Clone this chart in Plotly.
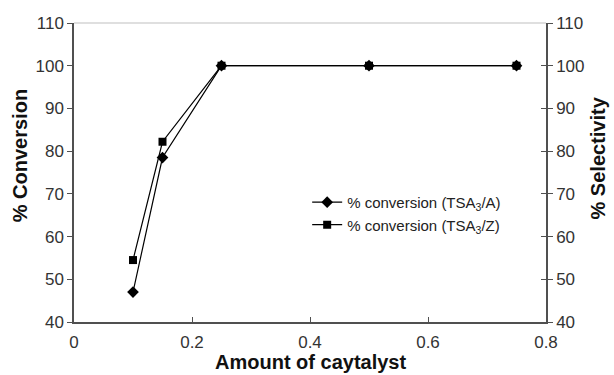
import plotly.graph_objects as go

# Catalyst loading and conversion for the two catalysts
amount = [0.1, 0.15, 0.25, 0.5, 0.75]
conv_tsa3_a = [47.0, 78.5, 100.0, 100.0, 100.0]
conv_tsa3_z = [54.5, 82.2, 100.0, 100.0, 100.0]

x_ticks = [0, 0.2, 0.4, 0.6, 0.8]
x_labels = ["0", "0.2", "0.4", "0.6", "0.8"]
y_ticks = [40, 50, 60, 70, 80, 90, 100, 110]

FONT = "Liberation Sans, Arial, sans-serif"
AXIS_COLOR = "#505050"
TICK_FONT = dict(size=17, color="#333333")
TITLE_FONT = dict(size=20, color="#111111")

fig = go.Figure()

fig.add_trace(go.Scatter(
    x=amount, y=conv_tsa3_a, mode="lines+markers",
    name="% conversion (TSA<sub>3</sub>/A)",
    line=dict(color="black", width=1.2),
    marker=dict(symbol="diamond", size=9, color="black"),
))
fig.add_trace(go.Scatter(
    x=amount, y=conv_tsa3_z, mode="lines+markers",
    name="% conversion (TSA<sub>3</sub>/Z)",
    line=dict(color="black", width=1.2),
    marker=dict(symbol="square", size=8, color="black"),
))
# invisible traces anchoring the right-hand axes
fig.add_trace(go.Scatter(x=[None], y=[None], yaxis="y2", showlegend=False))
fig.add_trace(go.Scatter(x=[None], y=[None], yaxis="y3", showlegend=False))

fig.update_layout(
    width=614, height=375,
    margin=dict(l=74, r=68, t=23, b=53),
    plot_bgcolor="white", paper_bgcolor="white",
    font=dict(family=FONT, color="#222222"),
    showlegend=True,
    legend=dict(
        x=0.494, y=0.363, xanchor="left", yanchor="middle",
        bgcolor="rgba(0,0,0,0)", font=dict(size=15, color="#222222"),
        tracegroupgap=0,
    ),
    xaxis=dict(
        range=[0, 0.8], tickvals=x_ticks, ticktext=x_labels,
        ticks="inside", ticklen=5, tickcolor=AXIS_COLOR,
        showline=True, linecolor=AXIS_COLOR, linewidth=1.5,
        showgrid=False, zeroline=False,
        tickfont=TICK_FONT, ticklabelstandoff=4,
    ),
    yaxis=dict(
        range=[40, 110], tickvals=y_ticks,
        ticks="outside", ticklen=5, tickcolor=AXIS_COLOR,
        showline=True, linecolor=AXIS_COLOR, linewidth=1.5,
        showgrid=False, zeroline=False,
        tickfont=TICK_FONT,
    ),
    yaxis2=dict(
        range=[40, 110], tickvals=y_ticks, overlaying="y", side="right",
        ticks="outside", ticklen=5, tickcolor=AXIS_COLOR,
        showline=True, linecolor=AXIS_COLOR, linewidth=1.5,
        showgrid=False, zeroline=False,
        tickfont=TICK_FONT,
    ),
    yaxis3=dict(
        range=[40, 110], tickvals=y_ticks, overlaying="y", side="right",
        ticks="inside", ticklen=5, tickcolor=AXIS_COLOR,
        showticklabels=False, showline=False, showgrid=False, zeroline=False,
    ),
)

# axis titles
fig.add_annotation(text="<b>Amount of caytalyst</b>", xref="paper", yref="paper",
                   x=0.5, y=-0.133, xanchor="center", yanchor="middle",
                   showarrow=False, font=TITLE_FONT, borderpad=0)
fig.add_annotation(text="<b>% Conversion</b>", xref="paper", yref="paper",
                   x=-0.114, y=0.555, xanchor="center", yanchor="middle", textangle=-90,
                   showarrow=False, font=TITLE_FONT, borderpad=0)
fig.add_annotation(text="<b>% Selectivity</b>", xref="paper", yref="paper",
                   x=1.11, y=0.55, xanchor="center", yanchor="middle", textangle=-90,
                   showarrow=False, font=TITLE_FONT, borderpad=0)

# light frame line along the top of the plot area
fig.add_shape(type="line", xref="paper", yref="paper", x0=0, x1=1, y0=1, y1=1,
              line=dict(color="#c0c0c0", width=1.2))

fig.write_html("out.html")
